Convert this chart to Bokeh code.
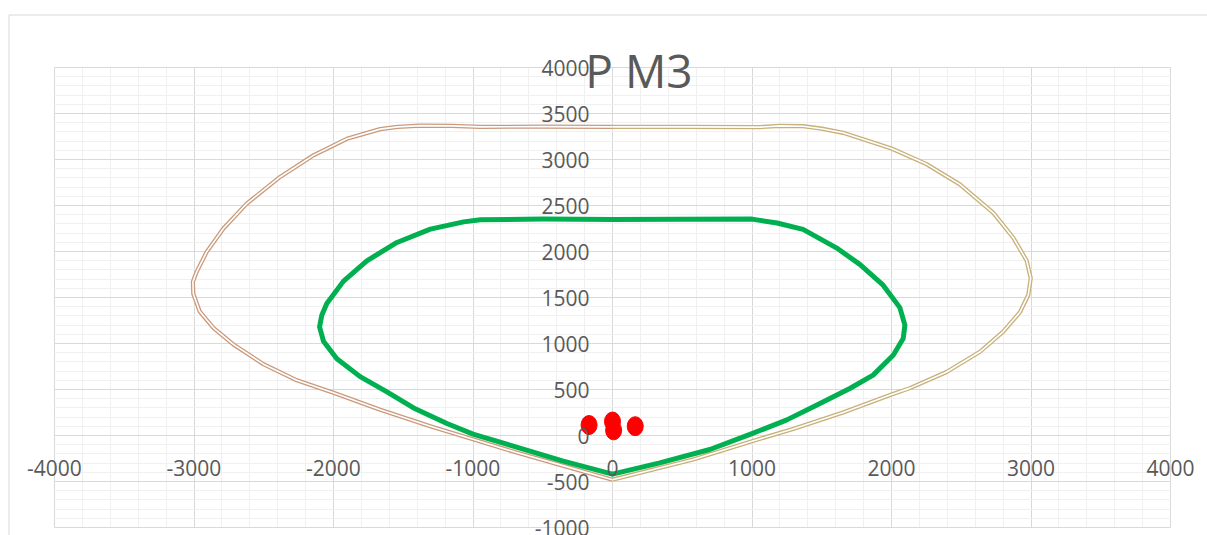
from bokeh.plotting import figure
from bokeh.models import Range1d, SingleIntervalTicker, LabelSet, Label, ColumnDataSource, BoxAnnotation
from bokeh.core.properties import value
from bokeh.embed import file_html
from bokeh.resources import INLINE

title_text = "P M3"

x_ticks = [-4000, -3000, -2000, -1000, 0, 1000, 2000, 3000, 4000]
y_ticks = [-1000, -500, 0, 500, 1000, 1500, 2000, 2500, 3000, 3500, 4000]

# outer envelope, left half (brown)
outer_left_x = [0, -500, -947, -1150, -1378, -1540, -1665, -1904, -2144, -2383, -2622, -2789,
                -2909, -2981, -3008, -3005, -2960, -2861, -2718, -2502, -2263, -2000,
                -1665, -1306, -1000, -700, -350, 0]
outer_left_y = [3355, 3357, 3355, 3365, 3368, 3355, 3330, 3225, 3045, 2810, 2520, 2250,
                1996, 1779, 1670, 1540, 1350, 1170, 990, 775, 600, 465,
                280, 100, -40, -180, -330, -480]

# outer envelope, right half (tan)
outer_right_x = [0, 500, 1055, 1200, 1366, 1500, 1653, 2000, 2251, 2490, 2730, 2873, 2969,
                 2998, 2981, 2921, 2801, 2634, 2395, 2132, 2000, 1653, 1294, 1000,
                 578, 0]
outer_right_y = [3355, 3355, 3352, 3365, 3362, 3335, 3290, 3120, 2950, 2730, 2420, 2150, 1900,
                 1710, 1530, 1340, 1130, 910, 690, 515, 445, 250, 70, -62,
                 -261, -480]

# design envelope (green)
green_x = [0, -353, -712, -1000, -1187, -1426, -1617, -1809, -1976, -2072, -2100, -2084,
           -2048, -1928, -1761, -1545, -1306, -1067, -947, -500, 0,
           500, 1000, 1180, 1366, 1605, 1773, 1940, 2060, 2096, 2084, 2012, 1868, 1701,
           1462, 1246, 1000, 698, 339, 0]
green_y = [-420, -279, -116, 15, 130, 300, 475, 640, 835, 1025, 1180, 1308,
           1435, 1678, 1899, 2098, 2243, 2322, 2345, 2352, 2348,
           2350, 2352, 2310, 2240, 2040, 1860, 1634, 1390, 1200, 1054, 873, 656, 511,
           330, 167, 20, -152, -297, -420]

# load points (red)
red_x = [-168, 0, 8, 163]
red_y = [114, 152, 56, 101]

# layout (pixels): canvas and the plot area inside it
W, H = 1207, 535
PX_L, PX_R, PY_T, PY_B = 54, 1170, 67, 527
X0, X1, Y0, Y1 = x_ticks[0], x_ticks[-1], y_ticks[0], y_ticks[-1]
sx = (X1 - X0) / (PX_R - PX_L)
sy = (Y1 - Y0) / (PY_B - PY_T)
x_range = Range1d(X0 - PX_L * sx, X1 + (W - PX_R) * sx)
y_range = Range1d(Y0 - (H - PY_B) * sy, Y1 + PY_T * sy)

p = figure(width=W, height=H, x_range=x_range, y_range=y_range,
           output_backend="svg", toolbar_location=None,
           x_axis_location=None, y_axis_location=None,
           min_border_left=0, min_border_right=0,
           min_border_top=0, min_border_bottom=0)

p.background_fill_color = "white"
p.border_fill_color = "white"
p.outline_line_color = None

p.xgrid.ticker = SingleIntervalTicker(interval=1000, num_minor_ticks=5)
p.ygrid.ticker = SingleIntervalTicker(interval=500, num_minor_ticks=5)
p.xgrid.bounds = (X0, X1)
p.xgrid.cross_bounds = (Y0, Y1)
p.ygrid.bounds = (Y0, Y1)
p.ygrid.cross_bounds = (X0, X1)
p.grid.grid_line_color = "#d9d9d9"
p.grid.grid_line_width = 1
p.grid.minor_grid_line_color = "#f0f0f0"
p.grid.minor_grid_line_width = 1

brown = "#c99a7c"
tan = "#c7b07a"

for xs, ys, col in [(outer_left_x, outer_left_y, brown), (outer_right_x, outer_right_y, tan)]:
    p.line(xs, ys, line_color=col, line_width=4.2, line_join="round")
    p.line(xs, ys, line_color="white", line_width=1.6, line_join="round")

p.line(green_x, green_y, line_color="#00b050", line_width=5, line_join="round", line_cap="round")

p.ellipse(red_x, red_y, width=16, height=19, width_units="screen", height_units="screen",
          fill_color="#ff0000", line_color="#ff0000")

ysrc = ColumnDataSource(dict(x=[0] * len(y_ticks), y=y_ticks, t=[str(v) for v in y_ticks]))
p.add_layout(LabelSet(x="x", y="y", text="t", source=ysrc, x_offset=-23,
                      text_align="right", text_baseline="middle",
                      text_font=value("Open Sans"), text_font_size=value("21px"),
                      text_color="#595959"))

xsrc = ColumnDataSource(dict(x=x_ticks, y=[0] * len(x_ticks), t=[str(v) for v in x_ticks]))
p.add_layout(LabelSet(x="x", y="y", text="t", source=xsrc, y_offset=-32,
                      text_align="center", text_baseline="middle",
                      text_font=value("Open Sans"), text_font_size=value("21px"),
                      text_color="#595959"))

p.add_layout(Label(x=190, y=3971, text=title_text, text_align="center",
                   text_baseline="alphabetic", text_font="Open Sans",
                   text_font_size="46px", text_color="#595959"))

# chart-area border (left and top edges visible)
p.add_layout(BoxAnnotation(left=X0 - (PX_L - 8.5) * sx, right=X1 + 1000,
                           top=Y1 + (PY_T - 14.5) * sy, bottom=Y0 - 1000,
                           fill_alpha=0, line_color="#d9d9d9", line_alpha=1.0,
                           line_width=1))

open("out.html", "w").write(file_html(p, INLINE))
